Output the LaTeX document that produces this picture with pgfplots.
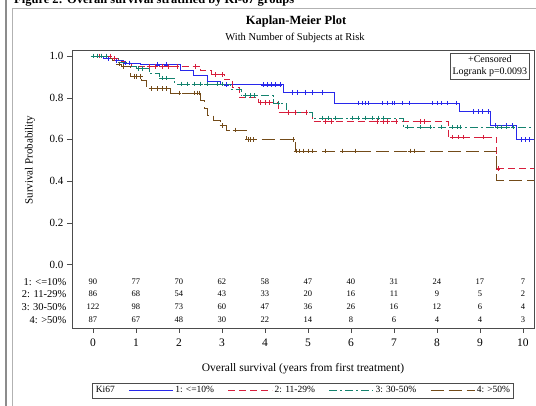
\documentclass[border=0pt]{standalone}
\usepackage{pgfplots}
\pgfplotsset{compat=1.18}
\usepackage{fontspec}
\setmainfont{Liberation Serif}
\definecolor{cblue}{RGB}{40,40,235}
\definecolor{cred}{RGB}{215,30,60}
\definecolor{cgreen}{RGB}{20,130,110}
\definecolor{cbrown}{RGB}{115,75,25}
\begin{document}
\begin{tikzpicture}[x=1pt,y=1pt]
\path[use as bounding box] (0,0) rectangle (536,406);
\draw[black!45, line width=1.2pt] (6,-5) -- (6,410);
\draw[black!30, line width=0.8pt] (12,-5) -- (12,398) -- (545,398);
\node[anchor=base west, font=\bfseries\fontsize{12.5}{14}\selectfont, inner sep=0pt] at (14,402.5) {Figure 2: Overall survival stratified by Ki-67 groups};
\node[font=\bfseries\fontsize{12.5}{14}\selectfont] at (296,384) {Kaplan-Meier Plot};
\node[font=\fontsize{10.5}{12}\selectfont] at (295,368) {With Number of Subjects at Risk};
\node[rotate=90, font=\fontsize{11}{12}\selectfont] at (30,246) {Survival Probability};
\node[font=\fontsize{11.5}{13}\selectfont] at (303,37) {Overall survival (years from first treatment)};
\begin{axis}[
  at={(72pt,78pt)}, anchor=south west, scale only axis,
  width=462pt, height=278pt,
  xmin=-0.488, xmax=10.256, ymin=-0.3046, ymax=1.0288,
  xtick={0,1,2,3,4,5,6,7,8,9,10},
  ytick={0,0.2,0.4,0.6,0.8,1.0},
  tick pos=left, tick align=outside, major tick length=5pt,
  axis line style={black!70}, tick style={black!70},
  /pgf/number format/assume math mode=true,
  ticklabel style={font=\fontsize{11}{12}\selectfont},
  xticklabel style={font=\fontsize{11.5}{12}\selectfont, yshift=-2pt},
  yticklabel style={/pgf/number format/.cd, fixed, fixed zerofill, precision=1},
  clip mode=individual,
  legend style={at={(0.5,-0.225)}, anchor=center, legend columns=-1,
    draw=black!70, font=\fontsize{9.5}{10}\selectfont, inner sep=1.5pt,
    /tikz/every even column/.append style={column sep=12pt}},
  legend image code/.code={\draw[#1] (0pt,0pt) -- (44pt,0pt);},
]
\addlegendimage{empty legend}
\addlegendentry{Ki67}
% Group 1 (blue)
\addplot[const plot, cblue, line width=0.6pt] coordinates {
(0,1)(0.25,0.989)(0.45,0.978)(0.7,0.967)(1.1,0.958)(2.02,0.93)(2.33,0.906)(2.67,0.878)(2.95,0.862)(4.43,0.826)(5.62,0.774)(8.53,0.734)(9.23,0.667)(9.85,0.600)(10.25,0.600)};
\addlegendentry{1: <=10\%}
% Group 2 (red)
\addplot[const plot, cred, line width=0.6pt, dash pattern=on 7pt off 4pt] coordinates {
(0,1)(0.45,0.988)(0.6,0.976)(0.75,0.963)(0.9,0.951)(2.5,0.93)(2.75,0.911)(3.05,0.887)(3.25,0.85)(3.4,0.80)(3.85,0.776)(4.3,0.73)(5.1,0.686)(8.26,0.611)(9.39,0.459)(10.25,0.459)};
\addlegendentry{2: 11-29\%}
% Group 3 (green)
\addplot[const plot, cgreen, line width=0.6pt, dash pattern=on 8pt off 3pt on 2pt off 3pt] coordinates {
(0,1)(0.4,0.99)(0.6,0.969)(0.85,0.95)(1.0,0.94)(1.3,0.916)(1.55,0.894)(1.9,0.866)(3.2,0.84)(3.45,0.81)(4.2,0.774)(4.5,0.73)(5.09,0.703)(7.22,0.659)(10.25,0.659)};
\addlegendentry{3: 30-50\%}
% Group 4 (brown)
\addplot[const plot, cbrown, line width=0.6pt, dash pattern=on 13pt off 5pt] coordinates {
(0,1)(0.3,0.989)(0.45,0.978)(0.55,0.962)(0.65,0.95)(0.86,0.903)(1.13,0.882)(1.25,0.843)(1.79,0.823)(2.49,0.787)(2.58,0.75)(2.65,0.715)(2.8,0.69)(2.95,0.667)(3.1,0.646)(3.57,0.6)(4.7,0.545)(9.39,0.406)(10.25,0.406)};
\addlegendentry{4: >50\%}
% Censored marks
\addplot[forget plot, only marks, mark=+, mark size=2.3pt, cblue, mark options={line width=0.5pt}] coordinates {
(0.1,1)(0.2,1)(0.35,0.989)(0.55,0.978)(0.75,0.967)(0.85,0.967)(1.5,0.958)(1.7,0.958)(3.1,0.862)(3.96,0.862)(4.05,0.862)(4.15,0.862)(4.25,0.862)(4.35,0.862)(4.63,0.826)(4.74,0.826)(4.93,0.826)(5.09,0.826)(5.33,0.826)(6.16,0.774)(6.26,0.774)(6.33,0.774)(6.4,0.774)(6.72,0.774)(6.85,0.774)(6.95,0.774)(7.0,0.774)(7.2,0.774)(7.35,0.774)(7.9,0.774)(8.0,0.774)(8.1,0.774)(8.25,0.774)(8.45,0.774)(8.85,0.734)(8.95,0.734)(9.05,0.734)(9.2,0.734)(9.35,0.667)(9.6,0.667)(9.75,0.667)(9.95,0.6)(10.05,0.6)(10.15,0.6)};
\addplot[forget plot, only marks, mark=+, mark size=2.3pt, cred, mark options={line width=0.5pt}] coordinates {
(0.15,1)(0.3,1)(0.4,1)(0.5,0.988)(1.3,0.951)(1.45,0.951)(1.6,0.951)(1.75,0.951)(1.95,0.951)(2.37,0.951)(2.85,0.911)(3.0,0.911)(3.9,0.776)(4.0,0.776)(4.1,0.776)(4.55,0.73)(4.7,0.73)(4.95,0.73)(5.4,0.686)(5.55,0.686)(6.6,0.686)(6.75,0.686)(6.85,0.686)(7.05,0.686)(7.6,0.686)(7.7,0.686)(8.35,0.611)(8.5,0.611)(8.6,0.611)(9.07,0.611)(9.42,0.459)};
\addplot[forget plot, only marks, mark=+, mark size=2.3pt, cgreen, mark options={line width=0.5pt}] coordinates {
(0.0,1)(0.1,1)(0.2,1)(0.3,1)(1.05,0.94)(1.15,0.94)(1.6,0.894)(1.7,0.894)(2.05,0.866)(2.2,0.866)(2.35,0.866)(2.5,0.866)(2.65,0.866)(2.9,0.866)(3.0,0.866)(3.55,0.81)(3.65,0.81)(3.75,0.81)(4.3,0.774)(5.33,0.703)(5.47,0.703)(5.63,0.703)(6.02,0.703)(6.16,0.703)(6.33,0.703)(6.49,0.703)(6.63,0.703)(6.75,0.703)(7.3,0.659)(7.6,0.659)(7.84,0.659)(8.1,0.659)(8.35,0.659)(8.47,0.659)(8.53,0.659)(9.4,0.659)(9.5,0.659)(9.6,0.659)(9.77,0.659)};
\addplot[forget plot, only marks, mark=+, mark size=2.3pt, cbrown, mark options={line width=0.5pt}] coordinates {
(0.6,0.962)(0.7,0.95)(0.95,0.903)(1.0,0.903)(1.1,0.903)(1.35,0.843)(1.5,0.843)(1.6,0.843)(1.7,0.843)(2.0,0.823)(2.35,0.823)(2.42,0.823)(2.47,0.823)(3.0,0.667)(3.3,0.646)(3.6,0.6)(3.66,0.6)(3.72,0.6)(4.65,0.6)(4.72,0.545)(4.8,0.545)(4.9,0.545)(5.0,0.545)(5.1,0.545)(5.4,0.545)(5.8,0.545)(6.1,0.545)(7.37,0.545)(7.47,0.545)};
% Number at risk
\addplot[forget plot, draw=none, mark=none, nodes near coords, point meta=explicit symbolic,
  nodes near coords style={font=\fontsize{8.5}{9}\selectfont, anchor=center, inner sep=0pt, text=black}] coordinates {
(0,-0.0825)[90] (1,-0.0825)[77] (2,-0.0825)[70] (3,-0.0825)[62] (4,-0.0825)[58] (5,-0.0825)[47] (6,-0.0825)[40] (7,-0.0825)[31] (8,-0.0825)[24] (9,-0.0825)[17] (10,-0.0825)[7]
(0,-0.1415)[86] (1,-0.1415)[68] (2,-0.1415)[54] (3,-0.1415)[43] (4,-0.1415)[33] (5,-0.1415)[20] (6,-0.1415)[16] (7,-0.1415)[11] (8,-0.1415)[9] (9,-0.1415)[5] (10,-0.1415)[2]
(0,-0.2024)[122] (1,-0.2024)[98] (2,-0.2024)[73] (3,-0.2024)[60] (4,-0.2024)[47] (5,-0.2024)[36] (6,-0.2024)[26] (7,-0.2024)[16] (8,-0.2024)[12] (9,-0.2024)[6] (10,-0.2024)[4]
(0,-0.2662)[87] (1,-0.2662)[67] (2,-0.2662)[48] (3,-0.2662)[30] (4,-0.2662)[22] (5,-0.2662)[14] (6,-0.2662)[8] (7,-0.2662)[6] (8,-0.2662)[4] (9,-0.2662)[4] (10,-0.2662)[3]};
\begin{scope}[font=\fontsize{10.5}{11}\selectfont]
\node[anchor=east] at (axis cs:-0.488,-0.0825) [xshift=-2pt] {1: <=10\%};
\node[anchor=east] at (axis cs:-0.488,-0.1415) [xshift=-2pt] {2: 11-29\%};
\node[anchor=east] at (axis cs:-0.488,-0.2024) [xshift=-2pt] {3: 30-50\%};
\node[anchor=east] at (axis cs:-0.488,-0.2662) [xshift=-2pt] {4: >50\%};
\end{scope}
\node[anchor=north east, draw=black!70, fill=white, align=center, inner sep=2.5pt,
  font=\fontsize{10}{12}\selectfont] at (rel axis cs:0.991,0.989) {+Censored\\Logrank p=0.0093};
\end{axis}
\end{tikzpicture}
\end{document}
